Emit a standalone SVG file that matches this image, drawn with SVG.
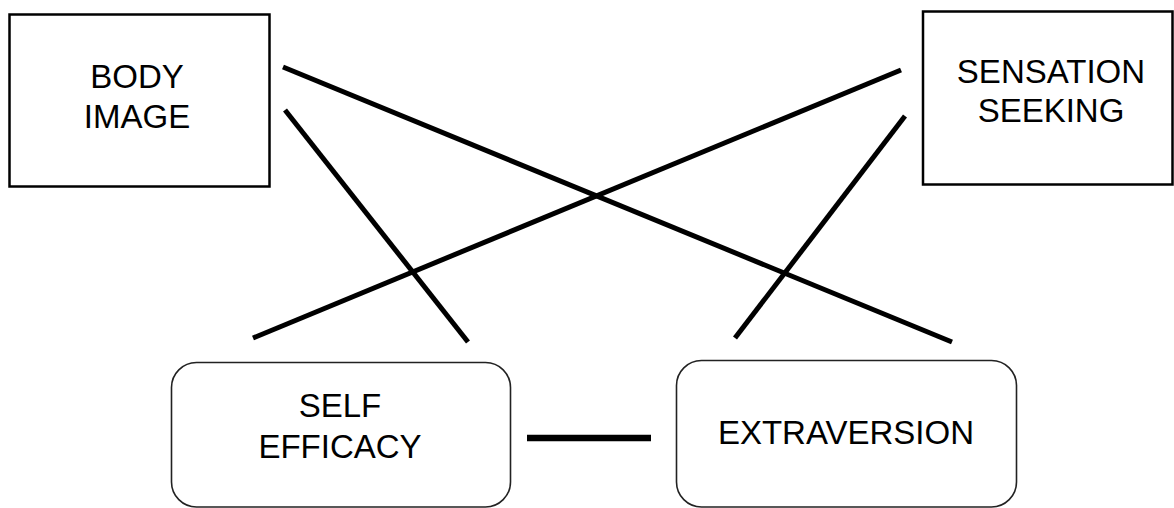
<svg xmlns="http://www.w3.org/2000/svg" width="1174" height="508" viewBox="0 0 1174 508">
<style>
.box{fill:#fff;stroke:#000;stroke-width:2.5}
.rbox{fill:#fff;stroke:#222;stroke-width:1.6}
.lbl{font-family:"Liberation Sans",Arial,sans-serif;font-size:33px;fill:#000;text-anchor:middle}
.edge{stroke:#000;stroke-width:5;stroke-linecap:butt;fill:none}
</style>
<rect width="1174" height="508" fill="#fff"/>
<g id="connectors">
<line class="edge" x1="283" y1="67" x2="952" y2="342"/>
<line class="edge" x1="285" y1="110" x2="468" y2="342"/>
<line class="edge" x1="901" y1="70" x2="253" y2="338"/>
<line class="edge" x1="905" y1="116" x2="735" y2="338"/>
<line class="edge" x1="527" y1="438" x2="651" y2="438" style="stroke-width:6.5"/>
</g>
<g id="body-image">
<rect class="box" x="9.5" y="14.5" width="260" height="172"/>
<text class="lbl" x="137" y="88">BODY</text>
<text class="lbl" x="137" y="128">IMAGE</text>
</g>
<g id="sensation-seeking">
<rect class="box" x="923" y="11.5" width="249.5" height="173"/>
<text class="lbl" x="1051" y="83">SENSATION</text>
<text class="lbl" x="1051" y="122">SEEKING</text>
</g>
<g id="self-efficacy">
<rect class="rbox" x="171.5" y="362.5" width="339" height="144.5" rx="25" ry="25"/>
<text class="lbl" x="340" y="417">SELF</text>
<text class="lbl" x="340" y="458">EFFICACY</text>
</g>
<g id="extraversion">
<rect class="rbox" x="676.5" y="360.5" width="340" height="146.5" rx="25" ry="25"/>
<text class="lbl" x="846" y="444">EXTRAVERSION</text>
</g>
</svg>
